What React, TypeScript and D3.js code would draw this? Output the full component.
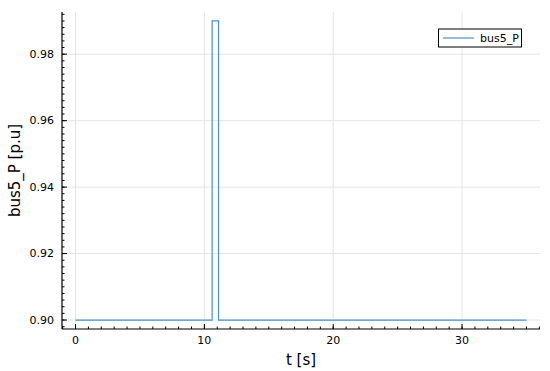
import React from 'react';
import * as d3 from 'd3';

// step signal
const time = [0, 10.6, 11.1, 35];
const busP = [0.9, 0.99, 0.9, 0.9];
const xTicks = [0, 10, 20, 30];
const yTicks = [0.9, 0.92, 0.94, 0.96, 0.98];
const seriesName = 'bus5_P';

const W = 550;
const H = 371;
const left = 62, right = 540, top = 12, bottom = 329;

const App = () => {
  const x = d3.scaleLinear().domain([-1.05, 36.05]).range([left, right]);
  const y = d3.scaleLinear().domain([0.8973, 0.9927]).range([bottom, top]);

  const pts = time.map((t, i) => [t, busP[i]] as [number, number]);
  const line = d3.line<[number, number]>()
    .x(d => x(d[0]))
    .y(d => y(d[1]))
    .curve(d3.curveStepAfter);

  const xMinor = d3.range(-1, 37, 1).filter(v => x(v) >= left && x(v) <= right);
  const yMinor = d3.range(0, 50).map(i => 0.898 + i * 0.002).filter(v => y(v) >= top && y(v) <= bottom);

  const font = 'DejaVu Sans, sans-serif';

  return (
    <svg width={W} height={H} style={{ position: 'absolute', left: 0, top: 0 }} fontFamily={font}>
      <rect width={W} height={H} fill="white" />
      {/* grid */}
      {xTicks.map(v => (
        <line key={'gx' + v} x1={x(v)} x2={x(v)} y1={top} y2={bottom} stroke="#e5e5e5" strokeWidth={1} />
      ))}
      {yTicks.map(v => (
        <line key={'gy' + v} x1={left} x2={right} y1={y(v)} y2={y(v)} stroke="#e5e5e5" strokeWidth={1} />
      ))}
      {/* data */}
      <path d={line(pts) || ''} fill="none" stroke="#4a90c8" strokeWidth={1.2} />
      {/* axes */}
      <line x1={left} x2={left} y1={top} y2={bottom} stroke="black" strokeWidth={1.2} />
      <line x1={left} x2={right} y1={bottom} y2={bottom} stroke="black" strokeWidth={1.2} />
      {xMinor.map(v => (
        <line key={'mx' + v} x1={x(v)} x2={x(v)} y1={bottom} y2={bottom - 2.5} stroke="black" strokeWidth={1} />
      ))}
      {yMinor.map(v => (
        <line key={'my' + v.toFixed(3)} x1={left} x2={left + 2.5} y1={y(v)} y2={y(v)} stroke="black" strokeWidth={1} />
      ))}
      {xTicks.map(v => (
        <g key={'tx' + v}>
          <line x1={x(v)} x2={x(v)} y1={bottom} y2={bottom - 5} stroke="black" strokeWidth={1} />
          <text x={x(v)} y={bottom + 15} fontSize={11} textAnchor="middle">{v}</text>
        </g>
      ))}
      {yTicks.map(v => (
        <g key={'ty' + v}>
          <line x1={left} x2={left + 5} y1={y(v)} y2={y(v)} stroke="black" strokeWidth={1} />
          <text x={left - 8} y={y(v)} fontSize={11} textAnchor="end" dominantBaseline="central">{v.toFixed(2)}</text>
        </g>
      ))}
      {/* axis labels */}
      <text x={(left + right) / 2} y={360} fontSize={15} textAnchor="middle" dominantBaseline="central">t [s]</text>
      <text transform={`translate(15,${(top + bottom) / 2}) rotate(-90)`} fontSize={15} textAnchor="middle" dominantBaseline="central">bus5_P [p.u]</text>
      {/* legend */}
      <rect x={438.5} y={29} width={83} height={18} fill="white" stroke="black" strokeWidth={1} />
      <line x1={443} x2={474} y1={38} y2={38} stroke="#4a90c8" strokeWidth={1.2} />
      <text x={480} y={38} fontSize={11} dominantBaseline="central">{seriesName}</text>
    </svg>
  );
};

export default App;
